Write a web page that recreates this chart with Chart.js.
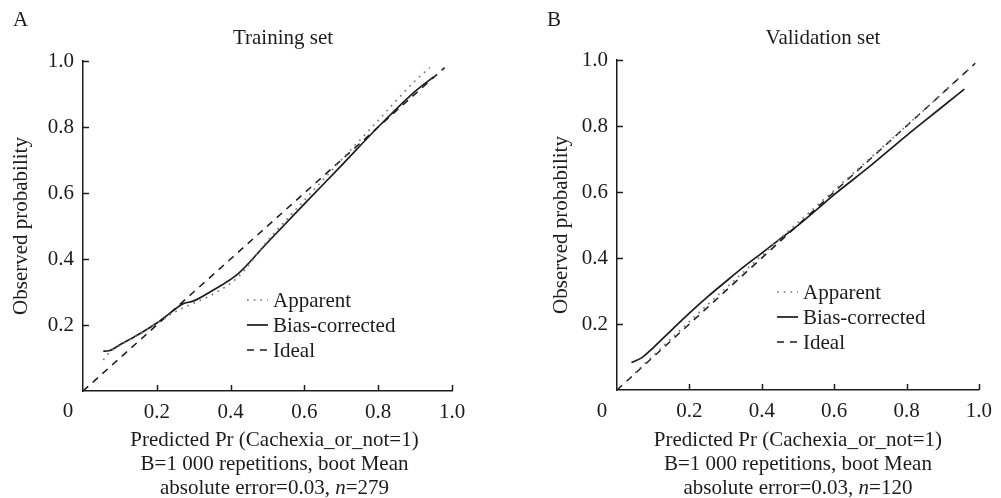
<!DOCTYPE html>
<html>
<head>
<meta charset="utf-8">
<script src="https://cdn.jsdelivr.net/npm/chart.js@4.4.0/dist/chart.umd.min.js"></script>
<style>
    html, body { margin: 0; padding: 0; background: #fff; }
    #wrap { position: relative; width: 1001px; height: 498px; }
    canvas { position: absolute; top: 0; }
    #chartA { left: 0; }
    #chartB { left: 500px; }
</style>
</head>
<body>
<div id="wrap">
    <canvas id="chartA" width="500" height="498"></canvas>
    <canvas id="chartB" width="501" height="498"></canvas>
</div>
<script>
// ============================================
// DATA
// ============================================
const axisTicks = [0, 0.2, 0.4, 0.6, 0.8, 1.0];
const legendLabels = ['Apparent', 'Bias-corrected', 'Ideal'];

// A - training set
const trainBiasX     = [0.055, 0.07, 0.1, 0.15, 0.2, 0.25, 0.27, 0.3, 0.35, 0.42, 0.5, 0.6, 0.7, 0.8, 0.9, 0.95];
const trainBias      = [0.121, 0.122, 0.14, 0.171, 0.206, 0.248, 0.264, 0.273, 0.304, 0.355, 0.45, 0.567, 0.683, 0.8, 0.908, 0.952];
const trainApparentX = [0.055, 0.07, 0.1, 0.15, 0.2, 0.25, 0.3, 0.35, 0.42, 0.5, 0.6, 0.7, 0.8, 0.9, 0.94];
const trainApparent  = [0.094, 0.115, 0.138, 0.17, 0.205, 0.24, 0.266, 0.292, 0.345, 0.455, 0.578, 0.7, 0.82, 0.94, 0.98];
const trainIdealX    = [0, 0.98];

// B - validation set
const validBiasX     = [0.04, 0.07, 0.1, 0.15, 0.2, 0.25, 0.3, 0.35, 0.4, 0.45, 0.5, 0.55, 0.6, 0.7, 0.8, 0.9, 0.96];
const validBias      = [0.083, 0.099, 0.128, 0.181, 0.233, 0.282, 0.328, 0.373, 0.415, 0.457, 0.499, 0.545, 0.592, 0.679, 0.771, 0.859, 0.912];
const validApparentX = [0.05, 0.15, 0.25, 0.35, 0.45, 0.55, 0.65, 0.75, 0.85, 0.95, 0.98];
const validApparent  = [0.052, 0.156, 0.258, 0.358, 0.458, 0.556, 0.654, 0.752, 0.85, 0.95, 0.98];
const validIdealX    = [0, 0.99];

const INK = '#1c1c1c';
const FONT_FAMILY = '"Liberation Serif", "Times New Roman", serif';
const FONT_SIZE = 21;

function toPoints(xs, ys) {
    return xs.map((x, i) => ({ x: x, y: ys[i] }));
}

// ============================================
// DECORATION PLUGIN (titles, inward ticks, legend)
// ============================================
const decorPlugin = {
    id: 'decor',
    afterDraw(chart, args, opts) {
        const { ctx, chartArea: ca, scales } = chart;
        const xs = scales.x, ys = scales.y;
        const font = FONT_SIZE + 'px ' + FONT_FAMILY;

        ctx.save();
        ctx.strokeStyle = INK;
        ctx.lineWidth = 1.5;

        // inward tick marks
        xs.ticks.forEach(t => {
            if (t.value === 0) return;
            const px = Math.round(xs.getPixelForValue(t.value)) + 0.5;
            ctx.beginPath();
            ctx.moveTo(px, ca.bottom);
            ctx.lineTo(px, ca.bottom - 6);
            ctx.stroke();
        });
        ys.ticks.forEach(t => {
            if (t.value === 0) return;
            const py = Math.round(ys.getPixelForValue(t.value)) + 0.5;
            ctx.beginPath();
            ctx.moveTo(ca.left, py);
            ctx.lineTo(ca.left + 6, py);
            ctx.stroke();
        });

        ctx.fillStyle = INK;
        ctx.font = font;
        ctx.textBaseline = 'alphabetic';

        // panel letter + title
        ctx.textAlign = 'left';
        ctx.fillText(opts.letter, opts.letterX, 26);
        ctx.textAlign = 'center';
        ctx.fillText(opts.title, opts.titleX, 44);

        // shared origin label
        ctx.fillText('0', ca.left - 15, 417);

        // x-axis title, three lines
        const cx = (ca.left + ca.right) / 2 + opts.xTitleShift;
        ctx.fillText('Predicted Pr (Cachexia_or_not=1)', cx, 446);
        ctx.fillText('B=1 000 repetitions, boot Mean', cx, 470);
        const partA = 'absolute error=0.03, ';
        const partB = 'n';
        const partC = '=' + opts.n;
        const italic = 'italic ' + font;
        ctx.font = font;
        const wA = ctx.measureText(partA).width;
        const wC = ctx.measureText(partC).width;
        ctx.font = italic;
        const wB = ctx.measureText(partB).width;
        let sx = cx - (wA + wB + wC) / 2;
        ctx.textAlign = 'left';
        ctx.font = font;
        ctx.fillText(partA, sx, 494);
        ctx.font = italic;
        ctx.fillText(partB, sx + wA, 494);
        ctx.font = font;
        ctx.fillText(partC, sx + wA + wB, 494);

        // y-axis title
        ctx.save();
        ctx.translate(opts.yTitleX, (ca.top + ca.bottom) / 2);
        ctx.rotate(-Math.PI / 2);
        ctx.textAlign = 'center';
        ctx.textBaseline = 'middle';
        ctx.fillText('Observed probability', 0, 0);
        ctx.restore();

        // legend inside plot
        const lx0 = ca.left + opts.legendX;
        const lx1 = lx0 + 21;
        const tx = ca.left + opts.legendTextX;
        chart.data.datasets.forEach((ds, i) => {
            const ry = ca.top + opts.legendY + i * 25;
            ctx.save();
            ctx.strokeStyle = ds.borderColor;
            ctx.lineWidth = ds.borderWidth;
            ctx.setLineDash(ds.borderDash || []);
            ctx.beginPath();
            ctx.moveTo(lx0, ry);
            ctx.lineTo(lx1, ry);
            ctx.stroke();
            ctx.restore();
            ctx.textAlign = 'left';
            ctx.textBaseline = 'middle';
            ctx.fillText(ds.label, tx, ry + 1);
        });

        ctx.restore();
    }
};

// ============================================
// CHART BUILDER
// ============================================
function makeDatasets(appX, app, biasX, bias, idealX) {
    return [{
        label: legendLabels[0],
        data: toPoints(appX, app),
        borderColor: '#7a7a7a',
        borderWidth: 1.7,
        borderDash: [1.7, 5],
        cubicInterpolationMode: 'monotone'
    }, {
        label: legendLabels[1],
        data: toPoints(biasX, bias),
        borderColor: INK,
        borderWidth: 1.7,
        cubicInterpolationMode: 'monotone'
    }, {
        label: legendLabels[2],
        data: toPoints(idealX, idealX),
        borderColor: INK,
        borderWidth: 1.5,
        borderDash: [7, 6]
    }];
}

function makeChart(canvasId, datasets, layout, decor) {
    const tickFont = { family: FONT_FAMILY, size: FONT_SIZE };
    const fmt = v => (v === 0 ? '' : v.toFixed(1));
    return new Chart(document.getElementById(canvasId), {
        type: 'scatter',
        data: { datasets: datasets },
        options: {
            responsive: false,
            animation: false,
            showLine: true,
            elements: { point: { radius: 0, hoverRadius: 0 } },
            layout: { padding: { left: 0, top: layout.top, right: layout.right, bottom: 0 } },
            plugins: {
                legend: { display: false },
                tooltip: { enabled: false },
                decor: decor
            },
            scales: {
                x: {
                    type: 'linear',
                    min: 0,
                    max: 1,
                    afterBuildTicks: s => { s.ticks = axisTicks.map(v => ({ value: v })); },
                    afterFit: s => { s.height = layout.xHeight; },
                    grid: { display: false, drawTicks: false },
                    border: { display: true, color: INK, width: 1.5 },
                    ticks: { color: INK, font: tickFont, padding: 9, autoSkip: false, maxRotation: 0, callback: fmt }
                },
                y: {
                    type: 'linear',
                    min: 0,
                    max: 1,
                    afterBuildTicks: s => { s.ticks = axisTicks.map(v => ({ value: v })); },
                    afterFit: s => { s.width = layout.yWidth; },
                    grid: { display: false, drawTicks: false },
                    border: { display: true, color: INK, width: 1.5 },
                    ticks: { color: INK, font: tickFont, padding: 9, callback: fmt }
                }
            }
        },
        plugins: [decorPlugin]
    });
}

makeChart('chartA',
    makeDatasets(trainApparentX, trainApparent, trainBiasX, trainBias, trainIdealX),
    { top: 61, right: 48, xHeight: 107, yWidth: 83 },
    { letter: 'A', letterX: 13, title: 'Training set', titleX: 283, xTitleShift: 7, yTitleX: 21,
      n: 279, legendX: 164, legendTextX: 190, legendY: 239 });

makeChart('chartB',
    makeDatasets(validApparentX, validApparent, validBiasX, validBias, validIdealX),
    { top: 60, right: 17, xHeight: 108, yWidth: 117 },
    { letter: 'B', letterX: 47, title: 'Validation set', titleX: 323, xTitleShift: 0, yTitleX: 61,
      n: 120, legendX: 160, legendTextX: 186, legendY: 232 });
</script>
</body>
</html>
